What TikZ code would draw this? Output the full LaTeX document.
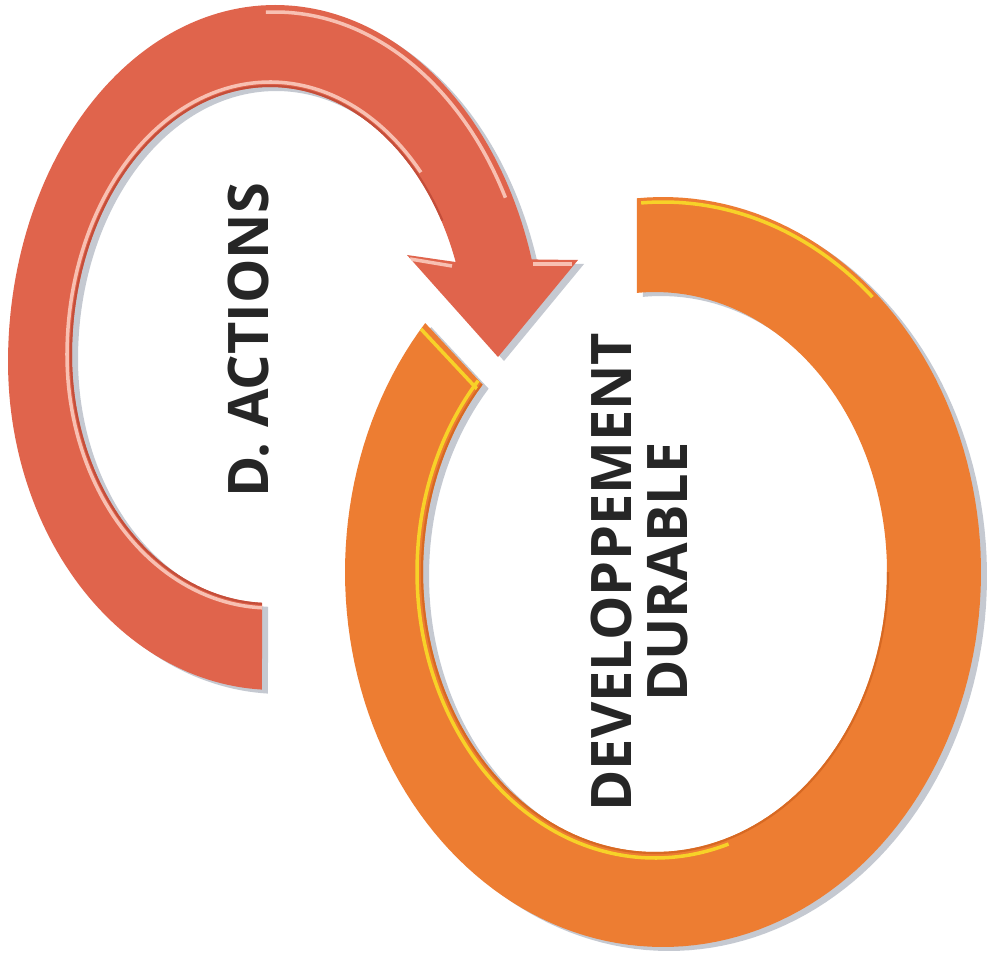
\documentclass[tikz,border=0pt]{standalone}
\usepackage{fontspec}
\setmainfont{Open Sans}
\definecolor{arrowred}{RGB}{224,100,76}
\definecolor{arrowdark}{RGB}{196,78,58}
\definecolor{ringorange}{RGB}{237,125,50}
\definecolor{ringdark}{RGB}{215,105,35}
\definecolor{ringhl}{RGB}{247,210,40}
\definecolor{redhl}{RGB}{248,192,178}
\definecolor{txt}{RGB}{38,38,38}
\definecolor{shadowgray}{RGB}{150,158,172}
\newcommand{\RingShape}{plot[domain=265.3:581.6,samples=160] ({663+318*cos(\x)},{572+375*sin(\x)}) -- plot[domain=582:265.5,samples=160] ({655+232*cos(\x)},{572+280*sin(\x)}) -- cycle}
\newcommand{\RedShape}{plot[domain=92.8:180,samples=60] ({275+267*cos(\x)},{362+328*sin(\x)}) -- plot[domain=180:270,samples=60] ({275+267*cos(\x)},{362+357*sin(\x)}) -- plot[domain=270:343.3,samples=60] ({275+268*cos(\x)},{362+357*sin(\x)}) -- (578,260) -- (498,357) -- (407,255) -- plot[domain=339.7:270,samples=60] ({270+198*cos(\x)},{355+268*sin(\x)}) -- plot[domain=270:180,samples=60] ({270+198*cos(\x)},{355+268*sin(\x)}) -- plot[domain=180:92.3,samples=60] ({270+198*cos(\x)},{355+248*sin(\x)}) -- cycle}
\begin{document}
\begin{tikzpicture}[x=0.01cm,y=-0.01cm,
  lbl/.style={font=\bfseries\fontsize{15.9}{17}\selectfont, text=txt, inner sep=0pt, rotate=90},
  shadowfill/.style={fill=shadowgray, opacity=0.55},
  hlline/.style={line width=1pt}]
\useasboundingbox (0,0) rectangle (992,955);
\fill[white] (0,0) rectangle (992,955);

% ---- orange ring ----
\begin{scope}[shift={(6,4)}]
  \fill[shadowfill] \RingShape;
\end{scope}
\fill[ringorange] \RingShape;
\begin{scope}
  \clip \RingShape;
  \draw[ringhl, hlline] plot[domain=72:222,samples=120] ({655+238*cos(\x)},{572+286*sin(\x)});
  \draw[ringhl, hlline] plot[domain=266:312,samples=60] ({663+313*cos(\x)},{572+370*sin(\x)});
  \draw[ringhl, hlline] (420,328) -- (478,390);
  \draw[ringdark, line width=1.2pt] plot[domain=0:222,samples=160] ({655+232*cos(\x)},{572+280*sin(\x)});
\end{scope}

% ---- red curved arrow ----
\begin{scope}[shift={(6,4)}]
  \fill[shadowfill] \RedShape;
\end{scope}
\fill[arrowred] \RedShape;
\begin{scope}
  \clip \RedShape;
  \draw[arrowdark, line width=1.2pt] plot[domain=330:270,samples=50] ({270+198*cos(\x)},{355+268*sin(\x)}) -- plot[domain=270:180,samples=50] ({270+198*cos(\x)},{355+268*sin(\x)}) -- plot[domain=180:92.3,samples=50] ({270+198*cos(\x)},{355+248*sin(\x)});
  \draw[redhl, hlline] plot[domain=318:270,samples=50] ({270+203*cos(\x)},{355+273*sin(\x)}) -- plot[domain=270:180,samples=50] ({270+203*cos(\x)},{355+273*sin(\x)}) -- plot[domain=180:92,samples=50] ({270+203*cos(\x)},{355+253*sin(\x)});
  \draw[redhl, hlline] plot[domain=268:332,samples=50] ({275+261*cos(\x)},{362+350*sin(\x)});
  \draw[redhl, hlline] (410,259) -- (452,266);
  \draw[redhl, hlline] (533,264) -- (572,264);
\end{scope}

% ---- labels ----
\node[lbl] (act) at (249,340) {D. ACTIONS};
\node[lbl] (dev) at (611,572) {DEVELOPPEMENT};
\node[lbl] (dur) at (668,572) {DURABLE};
\end{tikzpicture}
\end{document}
